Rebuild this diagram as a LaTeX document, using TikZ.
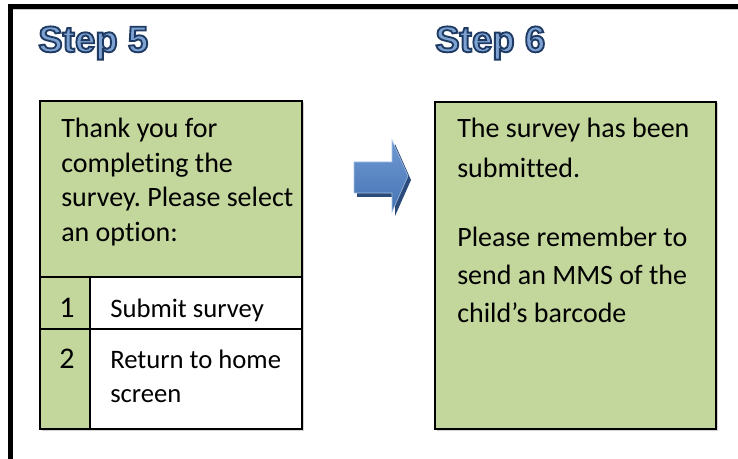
\documentclass[tikz,border=0pt]{standalone}
\usepackage{fontspec}
\setmainfont{Carlito}[Ligatures=NoCommon]
\newfontfamily\titlefont{Liberation Sans}
\frenchspacing

\definecolor{boxgreen}{HTML}{C3D69B}
\definecolor{titlefill}{HTML}{7EA3D3}
\definecolor{titleline}{HTML}{1F3B63}
\definecolor{arrowtop}{HTML}{6E99D2}
\definecolor{arrowbot}{HTML}{4673B4}
\definecolor{arrowshadow}{HTML}{2B4B7A}

\tikzset{
  steptitle/.style={anchor=base west, inner sep=0pt, text=titlefill, font=\titlefont\bfseries\fontsize{27.5}{30}\selectfont},
  bodyline/.style={anchor=base west, inner sep=0pt, font=\fontsize{21}{25}\selectfont},
  optline/.style={anchor=base west, inner sep=0pt, font=\fontsize{20}{24}\selectfont},
  optnum/.style={anchor=base, inner sep=0pt, font=\fontsize{22.5}{26}\selectfont},
  boxline/.style={line width=1.5pt},
}

% outlined title text: fill + stroke render mode
\newcommand{\steplabel}[1]{%
  \special{pdf:literal direct 2 Tr 1.4 w 0.122 0.231 0.388 RG}#1\special{pdf:literal direct 0 Tr}}

\begin{document}
\begin{tikzpicture}[x=0.75pt, y=-0.75pt]
  \useasboundingbox (0,0) rectangle (738,459);

  % frame
  \draw[gray!45, line width=0.8pt] (13,9.6) -- (738,9.6);
  \draw[line width=3.4pt] (10.5,459) -- (10.5,6.5) -- (738,6.5);

  % titles
  \node[steptitle] (title5) at (38,52) {\steplabel{Step 5}};
  \node[steptitle] (title6) at (435,52) {\steplabel{Step 6}};

  % step 5 menu
  \fill[gray!35] (41.5,102.5) rectangle (303.5,430.5);
  \fill[boxgreen] (40,101) rectangle (302,429);
  \fill[white] (90,277) rectangle (302,429);
  \draw[boxline] (40,101) rectangle (302,429);
  \draw[boxline] (40,277) -- (302,277);
  \draw[boxline] (40,329) -- (302,329);
  \draw[boxline] (90,277) -- (90,429);

  \node[bodyline] (intro1) at (61,138) {Thank you for};
  \node[bodyline] (intro2) at (61,172.5) {completing the};
  \node[bodyline] (intro3) at (61,207) {survey. Please select};
  \node[bodyline] (intro4) at (61,241.5) {an option:};

  \node[optnum] (num1) at (67,317) {1};
  \node[optline] (opt1) at (110,317) {Submit survey};
  \node[optnum] (num2) at (67,368) {2};
  \node[optline] (opt2a) at (110,368) {Return to home};
  \node[optline] (opt2b) at (110,402) {screen};

  % arrow
  \fill[arrowshadow] (357,166) -- (395,166) -- (395,144) -- (411,180) -- (395,216) -- (395,197) -- (357,197) -- cycle;
  \shade[top color=arrowtop, bottom color=arrowbot, draw=arrowtop!60!white, line width=0.4pt]
    (354,162) -- (392,162) -- (392,140) -- (408,176) -- (392,212) -- (392,193) -- (354,193) -- cycle;

  % step 6 message
  \fill[gray!35] (436.5,103.5) rectangle (717.5,430.5);
  \fill[boxgreen] (435,102) rectangle (716,429);
  \draw[boxline, line width=1.8pt] (435,102) rectangle (716,429);

  \node[bodyline] (done1) at (457,138) {The survey has been};
  \node[bodyline] (done2) at (457,178) {submitted.};
  \node[bodyline] (done3) at (457,247) {Please remember to};
  \node[bodyline] (done4) at (457,285) {send an MMS of the};
  \node[bodyline] (done5) at (457,323) {child’s barcode};
\end{tikzpicture}
\end{document}
